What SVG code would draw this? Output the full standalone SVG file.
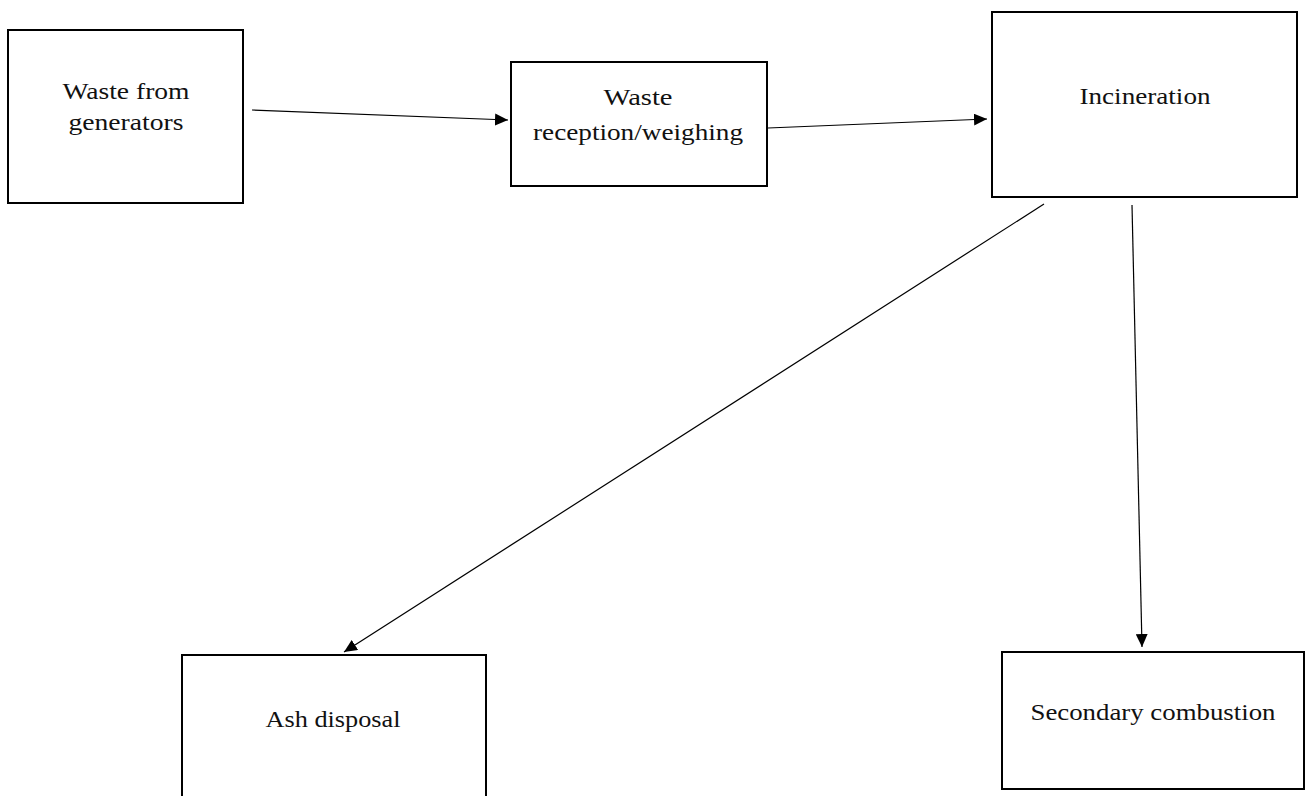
<svg xmlns="http://www.w3.org/2000/svg" width="1306" height="796" viewBox="0 0 1306 796">
<style>
.box{fill:#fff;stroke:#000;stroke-width:2}
.t{font-family:"Liberation Serif","Times New Roman",serif;font-size:24px;fill:#111;text-anchor:middle}
.c{stroke:#000;stroke-width:1.2;fill:none;marker-end:url(#ah)}
</style>
<defs>
<marker id="ah" markerUnits="userSpaceOnUse" markerWidth="14" markerHeight="12" refX="13" refY="6" orient="auto">
<path d="M0,0 L13,6 L0,12 Z" fill="#000"/>
</marker>
</defs>
<rect width="1306" height="796" fill="#fff"/>
<g id="connectors">
<line class="c" x1="252" y1="110" x2="508" y2="120"/>
<line class="c" x1="768" y1="128" x2="987" y2="119"/>
<line class="c" x1="1044" y1="204" x2="344" y2="652"/>
<line class="c" x1="1132" y1="205" x2="1142" y2="647"/>
</g>
<g id="n1"><rect class="box" x="8" y="30" width="235" height="173"/>
<text class="t" x="126" y="99" textLength="127" lengthAdjust="spacingAndGlyphs">Waste from</text>
<text class="t" x="126" y="130" textLength="115" lengthAdjust="spacingAndGlyphs">generators</text></g>
<g id="n2"><rect class="box" x="511" y="62" width="256" height="124"/>
<text class="t" x="638" y="105" textLength="69" lengthAdjust="spacingAndGlyphs">Waste</text>
<text class="t" x="638" y="140" textLength="210" lengthAdjust="spacingAndGlyphs">reception/weighing</text></g>
<g id="n3"><rect class="box" x="992" y="12" width="305" height="185"/>
<text class="t" x="1145" y="104" textLength="131" lengthAdjust="spacingAndGlyphs">Incineration</text></g>
<g id="n4"><rect class="box" x="182" y="655" width="304" height="160"/>
<text class="t" x="333" y="727" textLength="135" lengthAdjust="spacingAndGlyphs">Ash disposal</text></g>
<g id="n5"><rect class="box" x="1002" y="652" width="302" height="137"/>
<text class="t" x="1153" y="720" textLength="245" lengthAdjust="spacingAndGlyphs">Secondary combustion</text></g>
</svg>
